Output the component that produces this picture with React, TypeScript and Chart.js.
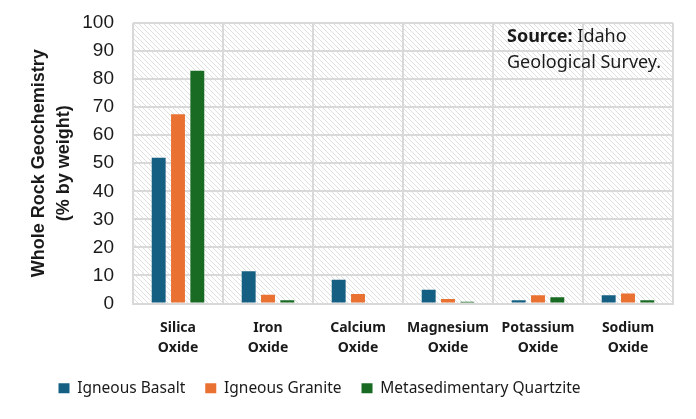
import React, { useEffect, useRef } from "react";
import { Chart, registerables } from "chart.js";

Chart.register(...registerables);

const categories: string[][] = [
  ["Silica", "Oxide"],
  ["Iron", "Oxide"],
  ["Calcium", "Oxide"],
  ["Magnesium", "Oxide"],
  ["Potassium", "Oxide"],
  ["Sodium", "Oxide"],
];
const igneousBasalt = [52, 11.5, 8.5, 4.9, 1.2, 2.9];
const igneousGranite = [67.5, 3.1, 3.4, 1.6, 2.9, 3.6];
const metasedimentaryQuartzite = [83, 1.2, 0, 0.6, 2.2, 1.2];
const yTicks = [0, 10, 20, 30, 40, 50, 60, 70, 80, 90, 100];

function makeHatch(): CanvasPattern | string {
  const c = document.createElement("canvas");
  c.width = 5;
  c.height = 5;
  const g = c.getContext("2d");
  if (!g) return "#ffffff";
  g.fillStyle = "#ffffff";
  g.fillRect(0, 0, 5, 5);
  g.strokeStyle = "#e0e0e0";
  g.lineWidth = 1;
  g.beginPath();
  g.moveTo(-1, -1);
  g.lineTo(6, 6);
  g.moveTo(-1, 4);
  g.lineTo(1, 6);
  g.moveTo(4, -1);
  g.lineTo(6, 1);
  g.stroke();
  const p = g.createPattern(c, "repeat");
  return p || "#ffffff";
}

export default function App() {
  const ref = useRef<HTMLCanvasElement | null>(null);
  useEffect(() => {
    document.body.style.margin = "0";
    const canvas = ref.current;
    if (!canvas) return;
    const hatch = makeHatch();
    const bgPlugin = {
      id: "hatchBg",
      beforeDraw(chart: any) {
        const { ctx, chartArea } = chart;
        ctx.save();
        ctx.fillStyle = hatch;
        ctx.fillRect(chartArea.left, chartArea.top, chartArea.right - chartArea.left, chartArea.bottom - chartArea.top);
        ctx.restore();
      },
    };
    const legendShift = {
      id: "legendShift",
      afterLayout(chart: any) {
        const lg = chart.legend;
        if (lg) {
          lg.left -= 17;
          lg.right -= 17;
        }
      },
    };
    const sourcePlugin = {
      id: "sourceText",
      afterDraw(chart: any) {
        const ctx = chart.ctx;
        ctx.save();
        ctx.fillStyle = "#1a1a1a";
        ctx.textBaseline = "middle";
        ctx.textAlign = "left";
        ctx.font = "bold 18px 'Noto Sans'";
        const x = 507;
        ctx.fillText("Source:", x, 37);
        const w = ctx.measureText("Source: ").width;
        ctx.font = "18px 'Noto Sans'";
        ctx.fillText("Idaho", x + w, 37);
        ctx.fillText("Geological Survey.", x, 63);
        ctx.restore();
      },
    };
    const chart = new Chart(canvas, {
      type: "bar",
      data: {
        labels: categories,
        datasets: [
          { label: "Igneous Basalt", data: igneousBasalt, backgroundColor: "#156082" },
          { label: "Igneous Granite", data: igneousGranite, backgroundColor: "#E97132" },
          { label: "Metasedimentary Quartzite", data: metasedimentaryQuartzite, backgroundColor: "#196B24" },
        ],
      },
      options: {
        responsive: false,
        animation: false,
        datasets: { bar: { categoryPercentage: 0.644, barPercentage: 0.72 } },
        layout: { padding: { left: 0, right: 23, top: 23, bottom: 13 } },
        plugins: {
          tooltip: { enabled: false },
          legend: {
            position: "bottom",
            labels: {
              boxWidth: 11,
              boxHeight: 10,
              padding: 20,
              color: "#1a1a1a",
              font: { family: "'Noto Sans'", size: 15.5 },
            },
          },
        },
        scales: {
          x: {
            grid: { color: "#d9d9d9", lineWidth: 2, drawTicks: false },
            border: { color: "#d9d9d9", width: 2 },
            ticks: {
              padding: 14,
              color: "#1a1a1a",
              font: { family: "'Noto Sans'", size: 14, weight: "bold", lineHeight: 1.45 },
              maxRotation: 0,
              autoSkip: false,
            },
            afterFit(scale: any) {
              scale.height = 57;
            },
          },
          y: {
            min: 0,
            max: 100,
            afterBuildTicks(scale: any) {
              scale.ticks = yTicks.map((v) => ({ value: v }));
            },
            grid: { color: "#d9d9d9", lineWidth: 2, drawTicks: true, tickLength: 19, tickColor: "rgba(0,0,0,0)" },
            border: { display: false },
            ticks: {
              padding: 0,
              color: "#1a1a1a",
              font: { family: "'Liberation Sans'", size: 19 },
            },
            title: {
              display: true,
              text: ["Whole Rock Geochemistry", "(% by weight)"],
              color: "#1a1a1a",
              font: { family: "'Liberation Sans'", size: 18, weight: "bold", lineHeight: 1.4 },
              padding: { top: 26, bottom: 0 },
            },
            afterFit(scale: any) {
              scale.width = 133;
            },
          },
        },
      },
      plugins: [bgPlugin, legendShift, sourcePlugin],
    } as any);
    return () => chart.destroy();
  }, []);
  return <canvas ref={ref} width={696} height={419} style={{ display: "block" }} />;
}
